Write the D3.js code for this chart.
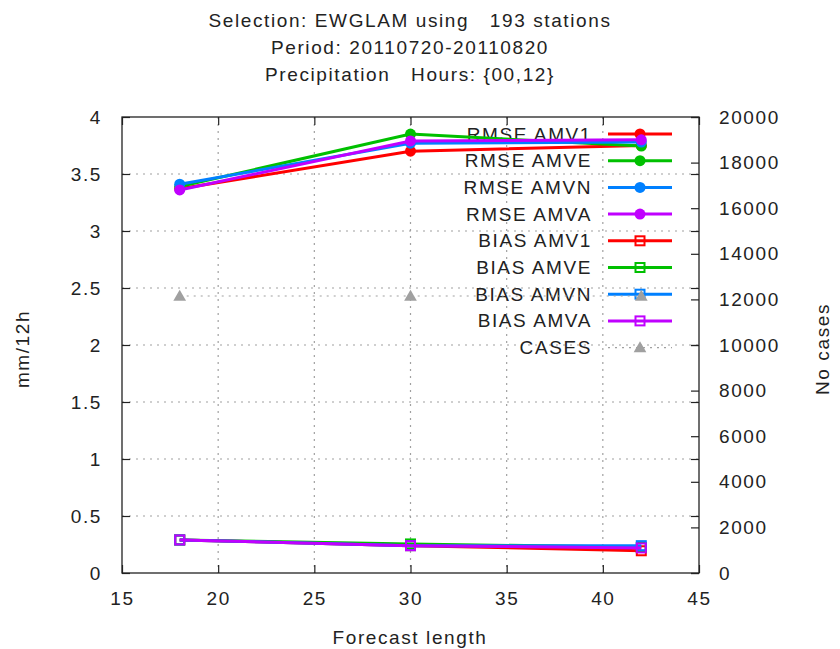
<!DOCTYPE html>
<html>
<head>
<meta charset="utf-8">
<script src="https://cdn.jsdelivr.net/npm/d3@7"></script>
<style>
  html, body { margin: 0; padding: 0; background: #fff; }
  text { font-family: "Liberation Sans", Arial, sans-serif; fill: #222; letter-spacing: 1.6px; white-space: pre; }
</style>
</head>
<body>
<svg id="chart" width="840" height="649"></svg>
<script>
// Forecast lengths (hours)
const leadTimes = [18, 30, 42];

// Scores per experiment, mm/12h
const rmseAMV1 = [3.37, 3.70, 3.75];
const rmseAMVE = [3.39, 3.85, 3.745];
const rmseAMVN = [3.41, 3.77, 3.78];
const rmseAMVA = [3.36, 3.79, 3.80];
const biasAMV1 = [0.29, 0.24, 0.195];
const biasAMVE = [0.29, 0.255, 0.225];
const biasAMVN = [0.29, 0.24, 0.24];
const biasAMVA = [0.29, 0.24, 0.22];

// Number of verified cases (right axis)
const cases = [12150, 12150, 12150];

const titleLines = [
  "Selection: EWGLAM using   193 stations",
  "Period: 20110720-20110820",
  "Precipitation   Hours: {00,12}"
];
const xTicks = [15, 20, 25, 30, 35, 40, 45];
const yTicks = [0, 0.5, 1, 1.5, 2, 2.5, 3, 3.5, 4];
const y2Ticks = [0, 2000, 4000, 6000, 8000, 10000, 12000, 14000, 16000, 18000, 20000];

const series = [
  { name: "RMSE AMV1", values: rmseAMV1, color: "#ff0000", marker: "dot" },
  { name: "RMSE AMVE", values: rmseAMVE, color: "#00c000", marker: "dot" },
  { name: "RMSE AMVN", values: rmseAMVN, color: "#0080ff", marker: "dot" },
  { name: "RMSE AMVA", values: rmseAMVA, color: "#c000ff", marker: "dot" },
  { name: "BIAS AMV1", values: biasAMV1, color: "#ff0000", marker: "square" },
  { name: "BIAS AMVE", values: biasAMVE, color: "#00c000", marker: "square" },
  { name: "BIAS AMVN", values: biasAMVN, color: "#0080ff", marker: "square" },
  { name: "BIAS AMVA", values: biasAMVA, color: "#c000ff", marker: "square" }
];

const svg = d3.select("#chart");
const L = 122, R = 699, T = 117, B = 573;
const FS = "19px";

const x = d3.scaleLinear().domain([15, 45]).range([L, R]);
const y = d3.scaleLinear().domain([0, 4]).range([B, T]);
const y2 = d3.scaleLinear().domain([0, 20000]).range([B, T]);

// Title
svg.append("g").selectAll("text").data(titleLines).join("text")
  .attr("x", 410).attr("y", (d, i) => 20 + i * 27)
  .attr("text-anchor", "middle").attr("dominant-baseline", "central")
  .style("font-size", FS).text(d => d);

// Grid
const grid = svg.append("g").attr("stroke", "#a0a0a0").attr("stroke-width", 1.2)
  .attr("stroke-dasharray", "2,5");
grid.selectAll(".gx").data(xTicks.filter(v => v > 15 && v < 45)).join("line")
  .attr("x1", d => x(d)).attr("x2", d => x(d)).attr("y1", T).attr("y2", B);
grid.selectAll(".gy").data(yTicks.filter(v => v > 0 && v < 4)).join("line")
  .attr("x1", L).attr("x2", R).attr("y1", d => y(d)).attr("y2", d => y(d));

// Axes (ticks point inward)
function styleAxis(g) {
  g.select(".domain").remove();
  g.selectAll(".tick line").attr("stroke", "#222").attr("stroke-width", 1.2);
  g.selectAll(".tick text").style("font-size", FS).attr("fill", "#222");
}
svg.append("g").attr("transform", `translate(0,${B})`)
  .call(d3.axisBottom(x).tickValues(xTicks).tickSize(-8).tickPadding(19).tickFormat(d3.format("d")))
  .call(styleAxis);
svg.append("g").attr("transform", `translate(0,${T})`)
  .call(d3.axisTop(x).tickValues(xTicks).tickSize(-8).tickFormat(""))
  .call(styleAxis);
svg.append("g").attr("transform", `translate(${L},0)`)
  .call(d3.axisLeft(y).tickValues(yTicks).tickSize(-8).tickPadding(20).tickFormat(d => d3.format("")(d)))
  .call(styleAxis);
svg.append("g").attr("transform", `translate(${R},0)`)
  .call(d3.axisRight(y).tickValues(yTicks).tickSize(-8).tickFormat(""))
  .call(styleAxis);
svg.append("g").attr("transform", `translate(${R},0)`)
  .call(d3.axisRight(y2).tickValues(y2Ticks).tickSize(-8).tickPadding(20).tickFormat(d3.format("d")))
  .call(styleAxis);

// Plot border
svg.append("rect").attr("x", L).attr("y", T).attr("width", R - L).attr("height", B - T)
  .attr("fill", "none").attr("stroke", "#222").attr("stroke-width", 1.3);

// Axis titles
svg.append("text").attr("x", 410).attr("y", 637).attr("text-anchor", "middle")
  .attr("dominant-baseline", "central").style("font-size", FS).text("Forecast length");
svg.append("text").attr("transform", "translate(22,349) rotate(-90)").attr("text-anchor", "middle")
  .attr("dominant-baseline", "central").style("font-size", FS).text("mm/12h");
svg.append("text").attr("transform", "translate(822,349) rotate(-90)").attr("text-anchor", "middle")
  .attr("dominant-baseline", "central").style("font-size", FS).text("No cases");

function drawMarker(g, type, color, cx, cy) {
  if (type === "dot") {
    g.append("circle").attr("cx", cx).attr("cy", cy).attr("r", 5.5).attr("fill", color);
  } else if (type === "square") {
    g.append("rect").attr("x", cx - 4.5).attr("y", cy - 4.5).attr("width", 9).attr("height", 9)
      .attr("fill", "none").attr("stroke", color).attr("stroke-width", 2);
  } else {
    g.append("path").attr("d", d3.symbol(d3.symbolTriangle, 70)())
      .attr("transform", `translate(${cx},${cy + 1})`).attr("fill", color);
  }
}

const line = d3.line().x((d, i) => x(leadTimes[i])).y(d => y(d));
const legendX0 = 608, legendX1 = 672, legendXm = 640, legendTextX = 592;
const rowY = i => 134 + i * 26.7;

series.forEach((s, k) => {
  const g = svg.append("g");
  g.append("path").datum(s.values).attr("d", line)
    .attr("fill", "none").attr("stroke", s.color).attr("stroke-width", 3);
  s.values.forEach((v, i) => drawMarker(g, s.marker, s.color, x(leadTimes[i]), y(v)));
  // legend entry
  g.append("text").attr("x", legendTextX).attr("y", rowY(k)).attr("text-anchor", "end")
    .attr("dominant-baseline", "central").style("font-size", FS).text(s.name);
  g.append("line").attr("x1", legendX0).attr("x2", legendX1).attr("y1", rowY(k)).attr("y2", rowY(k))
    .attr("stroke", s.color).attr("stroke-width", 3);
  drawMarker(g, s.marker, s.color, legendXm, rowY(k));
});

// Cases on the right axis
const casesLine = d3.line().x((d, i) => x(leadTimes[i])).y(d => y2(d));
const gc = svg.append("g");
gc.append("path").datum(cases).attr("d", casesLine).attr("fill", "none")
  .attr("stroke", "#a0a0a0").attr("stroke-width", 1.2).attr("stroke-dasharray", "2,5");
cases.forEach((v, i) => drawMarker(gc, "triangle", "#a0a0a0", x(leadTimes[i]), y2(v)));
gc.append("text").attr("x", legendTextX).attr("y", rowY(8)).attr("text-anchor", "end")
  .attr("dominant-baseline", "central").style("font-size", FS).text("CASES");
gc.append("line").attr("x1", legendX0).attr("x2", legendX1).attr("y1", rowY(8)).attr("y2", rowY(8))
  .attr("stroke", "#a0a0a0").attr("stroke-width", 1.2).attr("stroke-dasharray", "2,5");
drawMarker(gc, "triangle", "#a0a0a0", legendXm, rowY(8));
</script>
</body>
</html>
